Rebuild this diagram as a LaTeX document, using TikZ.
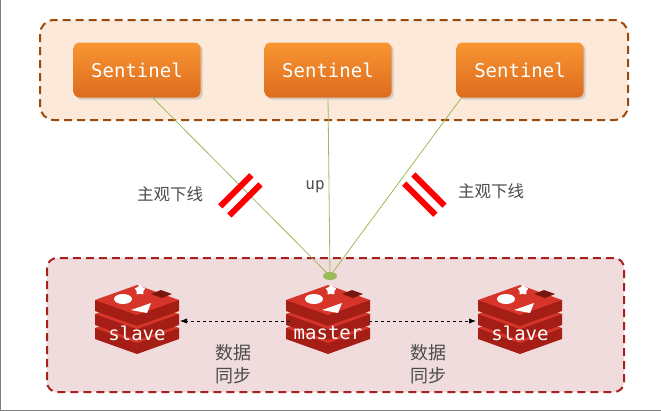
\documentclass[tikz,border=0pt]{standalone}
\usepackage{fontspec}
\setmonofont{DejaVu Sans Mono}
\newfontfamily\cjk{Noto Sans CJK SC}
\usetikzlibrary{arrows.meta,shapes.geometric,shadows}
\definecolor{rtop}{HTML}{D8352A}
\definecolor{rside}{HTML}{A41E16}
\definecolor{rdark}{HTML}{7A1510}
\definecolor{otop}{HTML}{F99532}
\definecolor{obot}{HTML}{DC6C1E}
\definecolor{gl}{HTML}{9BBB59}
\definecolor{topfill}{HTML}{FCE9DA}
\definecolor{botfill}{HTML}{F1DCDD}
\definecolor{topdraw}{HTML}{9C4A0C}
\definecolor{botdraw}{HTML}{A8201C}
\tikzset{
  sent/.style={rounded corners=6pt,minimum width=127pt,minimum height=55pt,top color=otop,bottom color=obot,draw=none,text=white,font=\ttfamily\fontsize{19}{19}\selectfont,drop shadow={opacity=0.3}},
  gline/.style={draw=gl,line width=0.8pt},
  bar/.style={draw=red,line width=6pt},
  lab/.style={text=black!70,font=\cjk\fontsize{16.5}{22}\selectfont,align=center},
  sync/.style={dashed,line width=0.7pt,-{Latex[length=7pt]}},
  pics/redis/.style={code={
    \foreach \yy in {28,14,0}{
      \fill[rside] (-42,\yy)--(-42,\yy+11)--(0,\yy+26)--(42,\yy+11)--(42,\yy)--cycle;
      \fill[rtop] (-42,\yy)--(0,\yy+15)--(42,\yy)--(0,\yy-15)--cycle;
    }
    \fill[white] (-14,-1) ellipse (9pt and 5pt);
    \fill[white] (-6,10)--(14,3)--(10,13)--cycle;
    \fill[rdark] (14,-6)--(25,-2)--(35,-6)--(24,-10)--cycle;
    \node[star,star points=5,fill=white,inner sep=0pt,minimum size=11pt] at (3,-10) {};
    \node[text=white,font=\ttfamily\fontsize{19}{19}\selectfont] at (0,33) {#1};
  }}
}
\begin{document}
\begin{tikzpicture}[x=1pt,y=-1pt]
\useasboundingbox (0,0) rectangle (661,410);
\draw[draw=black!50,line width=0.5pt] (0.5,0)--(0.5,410)--(661,410);
\draw[fill=topfill,draw=topdraw,dash pattern=on 8pt off 5pt,line width=2pt,rounded corners=14pt] (40,20) rectangle (628,120);
\draw[fill=botfill,draw=botdraw,dash pattern=on 8pt off 5pt,line width=2pt,rounded corners=10pt] (47,258) rectangle (624,392);
\node[sent] (s1) at (137,70) {Sentinel};
\node[sent] (s2) at (328,70) {Sentinel};
\node[sent] (s3) at (520,70) {Sentinel};
\pic at (137,300) {redis=slave};
\pic at (328,300) {redis=master};
\pic at (520,300) {redis=slave};
\coordinate (mt) at (330,276);
\coordinate (ml) at (290,321);
\coordinate (mr) at (369,321);
\coordinate (sl) at (180,321);
\coordinate (sr) at (476,321);
\draw[gline] (152,97)--(mt);
\draw[gline] (328,97)--(mt);
\draw[gline] (462,97)--(mt);
\fill[gl] (mt) ellipse (7pt and 4pt);
\draw[sync] (ml)--(sl);
\draw[sync] (mr)--(sr);
\begin{scope}[shift={(240,195)},rotate=-45]
\draw[bar] (-6,-22)--(-6,22);
\draw[bar] (7,-22)--(7,22);
\end{scope}
\begin{scope}[shift={(424,195)},rotate=45]
\draw[bar] (-6,-22)--(-6,22);
\draw[bar] (7,-22)--(7,22);
\end{scope}
\node[lab] (l1) at (170,194) {主观下线};
\node[lab,font=\ttfamily\fontsize{16}{16}\selectfont] (l2) at (315,187) {up};
\node[lab] (l3) at (491,191) {主观下线};
\node[lab,font=\cjk\fontsize{18}{23}\selectfont] (d1) at (233,364) {数据\\同步};
\node[lab,font=\cjk\fontsize{18}{23}\selectfont] (d2) at (428,364) {数据\\同步};
\end{tikzpicture}
\end{document}
